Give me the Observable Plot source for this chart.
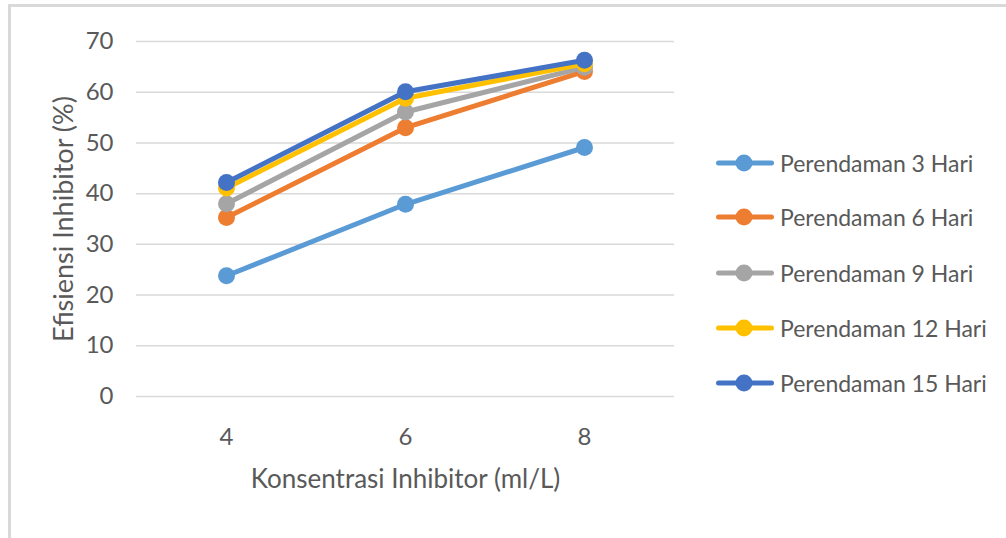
<!DOCTYPE html>
<html>
<head>
<meta charset="utf-8">
<script src="https://cdn.jsdelivr.net/npm/d3@7"></script>
<script src="https://cdn.jsdelivr.net/npm/@observablehq/plot@0.6"></script>
<style>
  html, body { margin: 0; padding: 0; background: #fff; overflow: hidden; }
  #wrap { position: relative; width: 1006px; height: 538px; overflow: hidden; font-family: Lato, "Noto Sans", sans-serif; }
  #frame { position: absolute; left: 8px; top: 4px; width: 1200px; height: 700px; border: 3px solid #d9d9d9; box-sizing: border-box; }
  #chart { position: absolute; left: 0; top: 0; }
  #legend { position: absolute; left: 716px; top: 0; }
  .item { position: absolute; left: 0; height: 30px; display: flex; align-items: center; white-space: nowrap; }
  .item span { font-size: 23px; color: #595959; margin-left: 6px; }
</style>
</head>
<body>
<div id="wrap">
  <div id="frame"></div>
  <div id="chart"></div>
  <div id="legend"></div>
</div>
<script>
const konsentrasi = [4, 6, 8];
const seriesNames = ["Perendaman 3 Hari", "Perendaman 6 Hari", "Perendaman 9 Hari", "Perendaman 12 Hari", "Perendaman 15 Hari"];
const hari3 = [23.8, 37.9, 49.1];
const hari6 = [35.3, 53.0, 64.1];
const hari9 = [38.0, 56.1, 64.9];
const hari12 = [41.1, 58.8, 65.6];
const hari15 = [42.2, 60.1, 66.3];
const yTicks = [0, 10, 20, 30, 40, 50, 60, 70];
const colors = ["#5B9BD5", "#ED7D31", "#A5A5A5", "#FFC000", "#4472C4"];
const xTitle = "Konsentrasi Inhibitor (ml/L)";
const yTitle = "Efisiensi Inhibitor (%)";

const allValues = [hari3, hari6, hari9, hari12, hari15];
const data = seriesNames.map((name, i) => konsentrasi.map((k, j) => ({series: name, x: k, y: allValues[i][j]})));

const textColor = "#595959";
const font = "Lato, 'Noto Sans', sans-serif";

const seriesMarks = data.flatMap(rows => [
  Plot.line(rows, {x: "x", y: "y", stroke: "series", strokeWidth: 5, strokeLinecap: "round", strokeLinejoin: "round"}),
  Plot.dot(rows, {x: "x", y: "y", fill: "series", r: 8.5})
]);

const chart = Plot.plot({
  width: 1006,
  height: 538,
  marginLeft: 136,
  marginRight: 332,
  marginTop: 41,
  marginBottom: 142,
  style: {fontFamily: font, background: "transparent", overflow: "visible"},
  x: {type: "point", domain: konsentrasi, padding: 0.5},
  y: {domain: [0, 70]},
  color: {domain: seriesNames, range: colors},
  marks: [
    Plot.gridY(yTicks, {stroke: "#d9d9d9", strokeOpacity: 1, strokeWidth: 1.5}),
    Plot.axisY(yTicks, {tickSize: 0, tickPadding: 23, fontSize: 24, fill: textColor, label: null}),
    Plot.axisX(konsentrasi, {tickSize: 0, tickPadding: 31, fontSize: 24, fill: textColor, label: null}),
    Plot.text([yTitle], {frameAnchor: "left", textAnchor: "middle", rotate: -90, dx: -72, fontSize: 27, fill: textColor}),
    Plot.text([xTitle], {frameAnchor: "bottom", textAnchor: "middle", dy: 91, fontSize: 26, fill: textColor}),
    ...seriesMarks
  ]
});
document.getElementById("chart").appendChild(chart);

// Legend
const legend = document.getElementById("legend");
const legendY = [163, 217, 273, 328, 383];
seriesNames.forEach((name, i) => {
  const item = document.createElement("div");
  item.className = "item";
  item.style.top = (legendY[i] - 15) + "px";
  const svg = d3.create("svg").attr("width", 58).attr("height", 30);
  svg.append("line").attr("x1", 2.5).attr("x2", 55.5).attr("y1", 15).attr("y2", 15)
    .attr("stroke", colors[i]).attr("stroke-width", 5).attr("stroke-linecap", "round");
  svg.append("circle").attr("cx", 28).attr("cy", 15).attr("r", 8.5).attr("fill", colors[i]);
  item.appendChild(svg.node());
  const span = document.createElement("span");
  span.textContent = name;
  item.appendChild(span);
  legend.appendChild(item);
});
</script>
</body>
</html>
